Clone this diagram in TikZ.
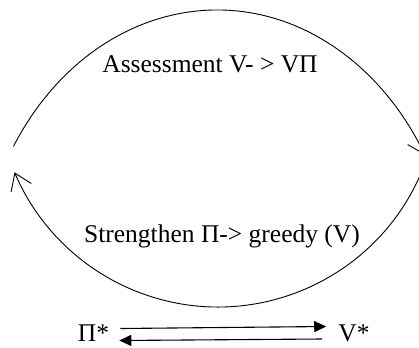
\documentclass[tikz,border=0pt]{standalone}
\usepackage{fontspec}
\setmainfont{Liberation Serif}
\usetikzlibrary{arrows.meta,calc}
\begin{document}
\begin{tikzpicture}[x=1pt,y=1pt,
  lbl/.style={anchor=base,inner sep=0pt,font=\fontsize{25.5}{30}\selectfont},
  cyc/.style={line width=0.9pt,-{Straight Barb[length=16pt,width=22pt,line width=0.9pt]}},
  flow/.style={line width=1.1pt,-{Triangle[length=12pt,width=11pt]}}]
\useasboundingbox (0,0) rectangle (419,-347);
% cycle arcs
\coordinate (ts) at ($(217,-300)+(148:240 and 290)$);
\draw[cyc] (ts) arc[start angle=148,end angle=30,x radius=240,y radius=290];
\coordinate (bs) at ($(218,-86)+(-20:221)$);
\draw[cyc] (bs) arc[start angle=-20,end angle=-157,radius=221];
% labels
\node[lbl] (assess) at (210,-73) {Assessment V- > VΠ};
\node[lbl] (streng) at (222,-242) {Strengthen Π-> greedy (V)};
\node[lbl] (pi) at (93.5,-341) {Π*};
\node[lbl] (v) at (354,-341) {V*};
% arrows between optimal policy and value
\draw[flow] ([xshift=11pt,yshift=12.5pt]pi.base east) -- ([xshift=-12pt,yshift=14.5pt]v.base west);
\draw[flow] ([xshift=-16pt,yshift=2pt]v.base west) -- ([xshift=10pt,yshift=0.5pt]pi.base east);
\end{tikzpicture}
\end{document}
